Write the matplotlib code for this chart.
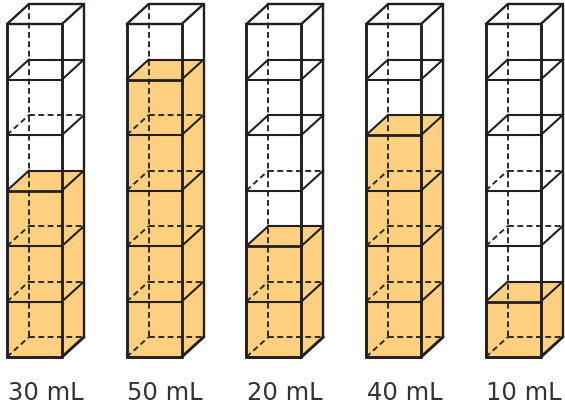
import matplotlib
matplotlib.use("Agg")
import matplotlib.pyplot as plt
from matplotlib.patches import Polygon

# data: filled cubes per column (each cube = 10 mL)
labels = ["30 mL", "50 mL", "20 mL", "40 mL", "10 mL"]
filled = [3, 5, 2, 4, 1]
n_cubes = 6
# how many layer edges under the top show their back edges solid (as in the picture)
solid_layers = [1, 0, 2, 1, 2]

fill_color = "#fdd07f"
ink = "#231f20"

# geometry (pixels)
left0, step = 7, 119.7
w, h = 55, 55.5
dx, dy = 22, 20
top = 24
bottom = top + n_cubes * h

fig = plt.figure(figsize=(5.65, 4.13), dpi=100)
ax = fig.add_axes([0, 0, 1, 1])
ax.set_xlim(0, 565)
ax.set_ylim(413, 0)
ax.axis("off")

def line(p, q, lw=1.4, dashed=False, z=3):
    kw = dict(color=ink, lw=lw, solid_capstyle="round", zorder=z)
    if dashed:
        kw.update(color="#2b2b2b", lw=1.4, dashes=(3, 1.8), zorder=2)
    ax.plot([p[0], q[0]], [p[1], q[1]], **kw)

for i, (lab, k) in enumerate(zip(labels, filled)):
    x0 = left0 + i * step
    x1 = x0 + w
    yf = bottom - k * h

    # liquid
    ax.add_patch(Polygon([(x0, yf), (x1, yf), (x1, bottom), (x0, bottom)],
                         color=fill_color, lw=0, zorder=1))
    ax.add_patch(Polygon([(x1, yf), (x1 + dx, yf - dy), (x1 + dx, bottom - dy), (x1, bottom)],
                         color=fill_color, lw=0, zorder=1))
    ax.add_patch(Polygon([(x0, yf), (x0 + dx, yf - dy), (x1 + dx, yf - dy), (x1, yf)],
                         color=fill_color, lw=0, zorder=1))

    # hidden edges
    line((x0 + dx, top - dy), (x0 + dx, bottom - dy), dashed=True)
    line((x0 + dx, bottom - dy), (x1 + dx, bottom - dy), dashed=True)
    line((x0, bottom), (x0 + dx, bottom - dy), dashed=True)

    # outer edges
    lw_o = 2.1
    line((x0, top), (x0, bottom), lw_o)
    line((x1, top), (x1, bottom), lw_o)
    line((x0, bottom), (x1, bottom), lw_o)
    line((x1, bottom), (x1 + dx, bottom - dy), lw_o)
    line((x1 + dx, top - dy), (x1 + dx, bottom - dy), 1.7)
    line((x0, top), (x1, top), 1.7)
    line((x0, top), (x0 + dx, top - dy), 1.7)
    line((x1, top), (x1 + dx, top - dy), 1.7)
    line((x0 + dx, top - dy), (x1 + dx, top - dy), 1.7)

    # layer edges
    for j in range(1, n_cubes):
        y = top + j * h
        is_fill_top = (j == n_cubes - k)
        line((x0, y), (x1, y), 2.0 if is_fill_top else 1.5)
        line((x1, y), (x1 + dx, y - dy), 1.5)
        back_solid = is_fill_top or j <= solid_layers[i]
        line((x0 + dx, y - dy), (x1 + dx, y - dy), 1.5, dashed=not back_solid)
        line((x0, y), (x0 + dx, y - dy), 1.5, dashed=not back_solid)

    ax.text(x0 + (w + dx) / 2, 393, lab, ha="center", va="center",
            fontsize=17.5, color="#333333", family="DejaVu Sans")

fig.savefig("out.png", dpi=100)
